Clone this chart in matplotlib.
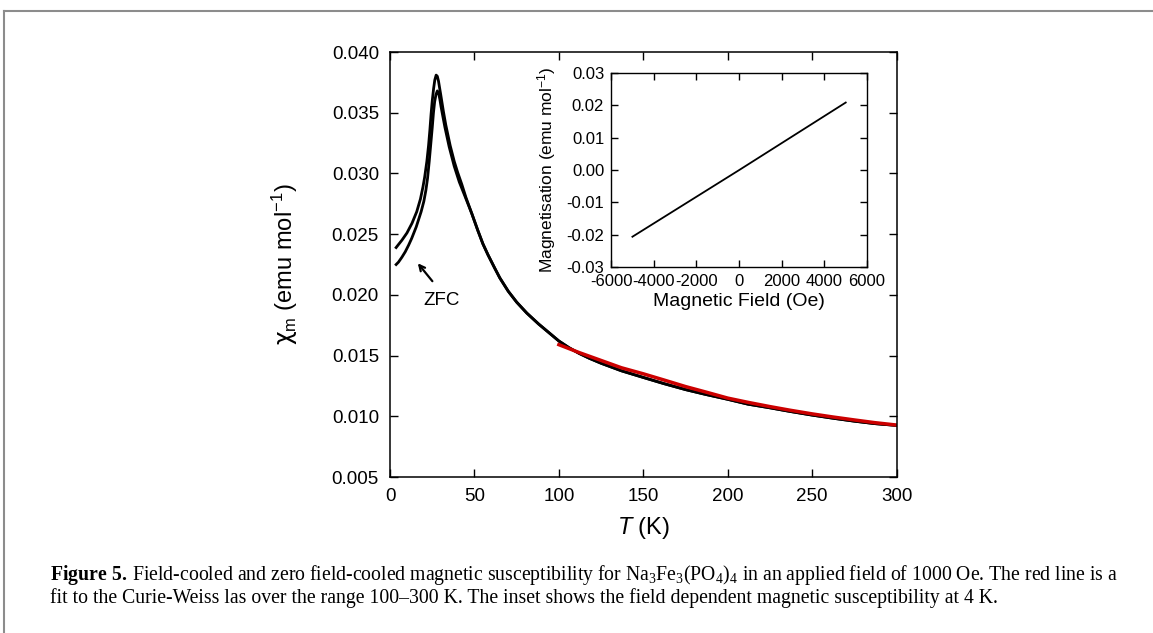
import numpy as np
import matplotlib
matplotlib.use('Agg')
import matplotlib.pyplot as plt
from matplotlib.lines import Line2D
from matplotlib.ticker import FormatStrFormatter

plt.rcParams['font.family'] = ['Liberation Sans', 'DejaVu Sans']
plt.rcParams['mathtext.fontset'] = 'custom'
plt.rcParams['mathtext.rm'] = 'Liberation Serif'
plt.rcParams['mathtext.it'] = 'Liberation Sans:italic'
plt.rcParams['mathtext.bf'] = 'Liberation Serif:bold'
plt.rcParams['mathtext.sf'] = 'Liberation Sans'
plt.rcParams['mathtext.tt'] = 'DejaVu Sans'
plt.rcParams['axes.unicode_minus'] = False

# field cooled, low temperature part (K, emu/mol)
t_fc = [3.6, 5, 7, 10, 13, 15.8, 18, 19.5, 20.5, 21.8, 22.8, 23.6, 24.3, 25, 25.8,
        26.5, 27.3, 28, 28.7, 29.4, 30, 31.6, 33, 35.6, 38, 40, 42.5, 45, 48.4]
chi_fc = [0.0239, 0.02415, 0.0245, 0.0251, 0.0259, 0.02685, 0.0279, 0.0289, 0.0297,
          0.0310, 0.0323, 0.0336, 0.0349, 0.0360, 0.0370, 0.0377, 0.0381, 0.0380,
          0.0376, 0.0370, 0.0365, 0.0351, 0.0340, 0.0323, 0.0310, 0.0301, 0.0291,
          0.0280, 0.0267]

# zero field cooled, low temperature part
t_zfc = [3.6, 5, 7, 9, 11, 12.8, 15.5, 18.4, 20, 21.2, 22.2, 23.2, 24.1, 25, 25.7,
         26.4, 27.2, 28, 28.8, 29.5, 30.2, 31, 32.5, 35, 38, 41, 45, 48.4]
chi_zfc = [0.0225, 0.0227, 0.0231, 0.02355, 0.0241, 0.02465, 0.0256, 0.02685, 0.0277,
           0.0286, 0.0296, 0.0310, 0.0324, 0.0338, 0.0350, 0.0359, 0.0365, 0.0368,
           0.0366, 0.0361, 0.0355, 0.0349, 0.0338, 0.0322, 0.0306, 0.0293, 0.0279,
           0.0267]

# common part above ~50 K
t_tail = [52, 55, 58, 62, 65, 70, 75, 81, 88, 94, 100, 106, 112, 118, 125, 137, 150,
          162, 175, 187, 200, 212, 225, 237, 250, 262, 275, 287, 300]
chi_tail = [0.0253, 0.0242, 0.0233, 0.0222, 0.0214, 0.0203, 0.0194, 0.0185, 0.0176,
            0.0169, 0.0162, 0.01565, 0.01518, 0.01478, 0.01437, 0.01375, 0.0132,
            0.0127, 0.0122, 0.0118, 0.0114, 0.0110, 0.0107, 0.0104, 0.0101, 0.00985,
            0.0096, 0.0094, 0.00925]

# Curie-Weiss fit 100-300 K
t_fit = [100, 112, 125, 137, 150, 162, 175, 187, 200, 212, 225, 237, 250, 262, 275,
         287, 300]
chi_fit = [0.0159, 0.01525, 0.0146, 0.0140, 0.0135, 0.0130, 0.01245, 0.0120, 0.0115,
           0.01115, 0.0108, 0.0105, 0.0102, 0.00995, 0.0097, 0.00948, 0.00928]

# inset: M(H) at 4 K
field = [-5000, 0, 5000]
magn = [-0.0206, 0.0, 0.0209]

fig = plt.figure(figsize=(11.53, 6.33), dpi=100)

# page frame
fig.add_artist(Line2D([4 / 1153, 1], [1 - 11 / 633] * 2, color='#8c8c8c', lw=1.5,
                      transform=fig.transFigure))
fig.add_artist(Line2D([4 / 1153] * 2, [0, 1 - 11 / 633], color='#8c8c8c', lw=1.5,
                      transform=fig.transFigure))

ax = fig.add_axes([0.3383, 0.2464, 0.4393, 0.6714])
ax.plot(t_fc + t_tail, chi_fc + chi_tail, color='black', lw=2.0,
        solid_joinstyle='round')
ax.plot(t_zfc + t_tail, chi_zfc + chi_tail, color='black', lw=2.0,
        solid_joinstyle='round')
ax.plot(t_fit, chi_fit, color='#cc0000', lw=2.5)
ax.set_xlim(0, 300)
ax.set_ylim(0.005, 0.040)
ax.set_xticks(np.arange(0, 301, 50))
ax.set_yticks(np.arange(0.005, 0.0401, 0.005))
ax.yaxis.set_major_formatter(FormatStrFormatter('%.3f'))
ax.tick_params(direction='in', top=True, right=True, length=6, width=1,
               labelsize=13.5, pad=8)
for s in ax.spines.values():
    s.set_linewidth(1.1)
ax.set_xlabel(r'$T$ (K)', fontsize=17)
ax.set_ylabel(r'$\mathtt{\chi}_\mathsf{m}$ (emu mol$^{\mathsf{-1}}$)', fontsize=17)
ax.xaxis.set_label_coords(0.5, -0.09)
ax.yaxis.set_label_coords(-0.178, 0.5)

ax.annotate('', xy=(15.4, 0.02278), xytext=(26.1, 0.02095),
            arrowprops=dict(arrowstyle='->', color='black', lw=1.6))
ax.text(30.6, 0.01957, 'ZFC', fontsize=13.5, ha='center', va='center')

# inset
ax2 = fig.add_axes([0.530, 0.578, 0.222, 0.3065])
ax2.plot(field, magn, color='black', lw=1.3)
ax2.set_xlim(-6000, 6000)
ax2.set_ylim(-0.03, 0.03)
ax2.set_xticks(np.arange(-6000, 6001, 2000))
ax2.set_yticks(np.arange(-0.03, 0.0301, 0.01))
ax2.yaxis.set_major_formatter(FormatStrFormatter('%.2f'))
ax2.tick_params(direction='in', top=True, right=True, length=5, width=1,
                labelsize=12, pad=5)
for s in ax2.spines.values():
    s.set_linewidth(1.0)
ax2.set_xlabel('Magnetic Field (Oe)', fontsize=14)
ax2.set_ylabel(r'Magnetisation (emu mol$^{\mathsf{-1}}$)', fontsize=12.5)
ax2.xaxis.set_label_coords(0.5, -0.135)
ax2.yaxis.set_label_coords(-0.207, 0.5)

# caption
cap1 = (r'$\mathbf{Figure\ 5.}\,$Field-cooled and zero field-cooled magnetic susceptibility '
        r'for Na$_3$Fe$_3$(PO$_4$)$_4$ in an applied field of 1000 Oe. The red line is a')
cap2 = ('fit to the Curie-Weiss las over the range 100\u2013300 K. The inset shows the '
        'field dependent magnetic susceptibility at 4 K.')
fig.text(50 / 1153, 1 - 575 / 633, cap1, family='Liberation Serif', fontsize=14.2,
         ha='left', va='center')
fig.text(50 / 1153, 1 - 598 / 633, cap2, family='Liberation Serif', fontsize=14.2,
         ha='left', va='center')

fig.savefig('out.png', dpi=100)
